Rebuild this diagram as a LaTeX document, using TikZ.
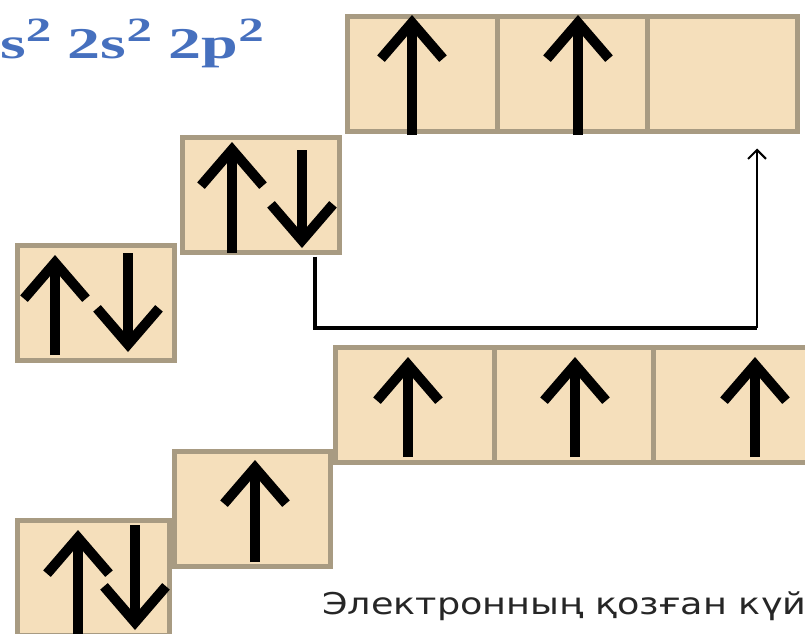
\documentclass[tikz,border=0pt]{standalone}
\usepackage{fontspec}
\setmainfont{Liberation Serif}
\newfontfamily\kazfont{DejaVu Sans}
\usetikzlibrary{arrows.meta, positioning, calc}
\definecolor{cellfill}{RGB}{245,223,187}
\definecolor{cellline}{RGB}{168,155,130}
\definecolor{configblue}{RGB}{70,112,190}
\newcommand{\supnum}[1]{\raisebox{17pt}{\fontsize{34}{34}\selectfont #1}}

\begin{document}
\begin{tikzpicture}[
    x=1pt, y=-1pt,
    % orbital cells
    cell/.style={draw=cellline, fill=cellfill, line width=5pt, minimum width=#1,
        minimum height=115pt, inner sep=0pt, outer sep=0pt},
    cell/.default=155pt,
    % electron spins
    spin/.style={line width=10pt, -{Straight Barb[length=36pt, width=62pt, line width=10pt]}},
    % transition of the electron
    link/.style={line width=4pt},
    jumparrow/.style={line width=2.5pt, -{Straight Barb[length=9pt, width=18pt, line width=2pt]}},
    config_label/.style={font=\fontsize{44}{44}\selectfont\bfseries, text=configblue, inner sep=0pt},
    state_label/.style={font=\kazfont\fontsize{30}{30}\selectfont, text=black!85, inner sep=0pt}
]
    \useasboundingbox (0,0) rectangle (805,633);
    \clip (0,0) rectangle (805,633);

    % --- 1. EXCITED STATE: 1s 2s 2p ---
    \node[cell=157pt] (ex1s) at (96,302.5) {};
    \node[cell=157pt] (ex2s) at (261,195) {};
    \foreach \i/\x in {1/422, 2/572, 3/722}
        \node[cell=150pt] (ex2p\i) at (\x,74) {};

    \draw[spin] (55,355) -- (55,255);
    \draw[spin] (128,253) -- (128,352);
    \draw[spin] (232,253) -- (232,142);
    \draw[spin] (302,150) -- (302,248);
    \draw[spin] (412,135) -- (412,15);
    \draw[spin] (578,135) -- (578,15);

    % --- 2. GROUND STATE ---
    \node[cell=152pt] (gr1s) at (93.5,577.5) {};
    \node[cell=156pt] (gr2s) at (252.5,509) {};
    \foreach \i/\x in {1/415, 2/574, 3/733}
        \node[cell=159pt] (gr2p\i) at (\x,405) {};

    \draw[spin] (78,645) -- (78,530);
    \draw[spin] (135,525) -- (135,630);
    \draw[spin] (255,562) -- (255,460);
    \draw[spin] (408,457) -- (408,357);
    \draw[spin] (575,457) -- (575,357);
    \draw[spin] (755,457) -- (755,357);

    % --- 3. ELECTRON JUMP 2s -> 2p ---
    \coordinate (jump) at ([xshift=54pt, yshift=-4pt]ex2s.south);
    \coordinate (turn) at ([xshift=24pt, yshift=20pt]gr2p3.north);
    \coordinate (land) at ([xshift=35pt, yshift=-17pt]ex2p3.south);
    \draw[link] (jump) |- (turn);
    \draw[jumparrow] (turn) -- (land);

    % --- 4. LABELS ---
    \node[config_label, anchor=base west] (config) at (0,58)
        {\scalebox{1.5}[1]{s\supnum{2} 2s\supnum{2} 2p\supnum{2}}};
    \node[state_label, anchor=base west] (state) at (322,614)
        {\scalebox{1.22}[1]{Электронның қозған күй}};
\end{tikzpicture}
\end{document}
